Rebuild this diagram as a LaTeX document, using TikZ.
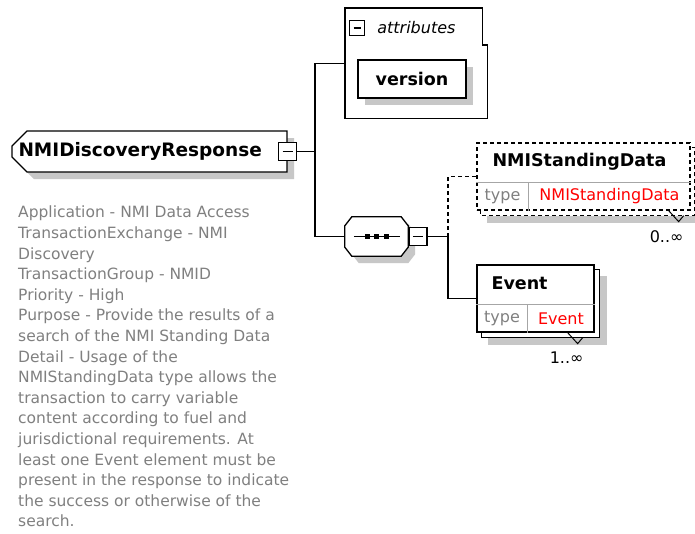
\documentclass[tikz,border=0pt]{standalone}
\usepackage{fontspec}
\setmainfont{DejaVu Sans}
\usetikzlibrary{positioning}
\usetikzlibrary{calc}
\usetikzlibrary{shapes.misc}
\usetikzlibrary{shadows}
\colorlet{shadow colour}{black!22}
\colorlet{note colour}{black!50}
\colorlet{type colour}{red}
\colorlet{split colour}{black!35}
\tikzset{
    % Outlines of the schema boxes
    outline/.style={draw=black, line width=1.3pt},
    connector/.style={draw=black, line width=1.3pt},
    dashed line/.style={dash pattern=on 4pt off 3pt},
%
    % Grey offset shadow under a box
    box shadow/.style={drop shadow={shadow xshift=7pt, shadow yshift=-7pt,
        fill=shadow colour, opacity=1}},
%
    % Fonts used in the boxes
    bold font/.style={font=\fontsize{17.5}{20}\selectfont\bfseries},
    small font/.style={font=\fontsize{16}{20.6}\selectfont},
}
\pgfdeclarelayer{background}
\pgfsetlayers{background,main}

\begin{document}
\begin{tikzpicture}[
    x=1pt, y=-1pt,
    plain box/.style={outline, fill=white, bold font, inner sep=0},
    element/.style={outline, fill=white, inner sep=0},
    root shape/.style={plain box, chamfered rectangle,
        chamfered rectangle corners={north west, south west},
        chamfered rectangle xsep=6pt, chamfered rectangle ysep=9pt},
    minus/.style={outline, fill=white, minimum size=18, inner sep=0,
        path picture={\draw [line width=1.5pt]
            ([xshift=4]path picture bounding box.west) --
            ([xshift=-4]path picture bounding box.east);}},
    dot/.style={fill=black, minimum size=5, inner sep=0},
    name text/.style={bold font, inner sep=0},
    type cell/.style={small font, text=note colour, inner sep=0, minimum height=28},
    value cell/.style={small font, text=type colour, inner sep=0, minimum height=28},
    split/.style={draw=split colour, line width=1pt},
    occurs/.style={small font, inner sep=0},
    note/.style={font=\fontsize{15.5}{20.6}\selectfont, text=note colour,
        align=left, inner sep=0},
]

\begin{pgfonlayer}{background}
    \fill [white] (0,0) rectangle (695,533);
\end{pgfonlayer}
\useasboundingbox (0,0) rectangle (695,533);

% root element
\node [root shape, box shadow, minimum width=275, minimum height=41,
    text width=262, align=left, font=\fontsize{18.5}{20}\selectfont\bfseries]
    (resp) at (149.5,151.5) {NMIDiscoveryResponse};
\node [minus] (resp minus) at (resp.east) {};

% attribute group
\node [minimum width=142, minimum height=110, anchor=north west, inner sep=0]
    (attrs) at (345,8) {};
\draw [outline, fill=white] (attrs.north west) -- ([xshift=-5]attrs.north east)
    -- ++(0,37) -- ++(5,0) -- (attrs.south east) -- (attrs.south west) -- cycle;
\node [minus, minimum size=15] (attrs minus) at (357,28) {};
\node [font=\fontsize{16}{20}\selectfont\itshape, anchor=west, inner sep=0]
    (attrs label) at ([xshift=12]attrs minus.east) {attributes};
\node [plain box, box shadow, minimum width=108, minimum height=38]
    (version) at (412,79) {version};

% sequence (octagon with its shadow)
\node [minimum width=63, minimum height=39, inner sep=0] (seq) at (376.5,236.5) {};
\foreach \d/\fillc/\drawc in {7/shadow colour/none, 0/white/black}
    \draw [line width=1.3pt, fill=\fillc, draw=\drawc]
        ($(seq.north west)+(7+\d,\d)$) -- ($(seq.north east)+(-7+\d,\d)$)
        -- ($(seq.north east)+(\d,9+\d)$) -- ($(seq.south east)+(\d,-9+\d)$)
        -- ($(seq.south east)+(-7+\d,\d)$) -- ($(seq.south west)+(7+\d,\d)$)
        -- ($(seq.south west)+(\d,-9+\d)$) -- ($(seq.north west)+(\d,9+\d)$)
        -- cycle;
\draw [line width=1.3pt] ([xshift=9]seq.west) -- ([xshift=-8]seq.east);
\foreach \dx in {-9.5,0,9.5}
    \node [dot] at ([xshift=\dx]seq.center) {};
\node [minus, anchor=west] (seq minus) at (seq.east) {};

% NMIStandingData element
\node [element, dashed line, minimum width=213, minimum height=67]
    (nmi) at (583.5,176.5) {};
\node [name text, anchor=west] (nmi name) at ($(nmi.north west)+(16,19.5)$) {NMIStandingData};
\node [type cell, minimum width=52, anchor=south west] (nmi type) at (nmi.south west) {type};
\node [value cell, minimum width=161, anchor=west] (nmi value) at (nmi type.east) {NMIStandingData};
\draw [split] (nmi type.north west) -- (nmi type.north west -| nmi.east);
\draw [split] (nmi type.north east) -- (nmi type.south east);
\draw [line width=1pt] ([xshift=-22]nmi.south east) -- ++(10,11) -- ++(5,-6);
\node [occurs, anchor=east] (nmi occurs) at ($(nmi.south east)+(-7,26)$) {0..∞};

% Event element
\node [element, minimum width=117, minimum height=67] (event) at (535.5,298.5) {};
\node [name text, anchor=west] (event name) at ($(event.north west)+(15,19)$) {Event};
\node [type cell, minimum width=51, anchor=south west] (event type) at (event.south west) {type};
\node [value cell, minimum width=66, anchor=west] (event value) at (event type.east) {Event};
\draw [split] (event type.north west) -- (event type.north west -| event.east);
\draw [split] (event type.north east) -- (event type.south east);
\draw [line width=1pt] ([xshift=-27]event.south east) -- ++(10,11) -- ++(5,-6);
\node [occurs, anchor=east] (event occurs) at ($(event.south east)+(-11,25)$) {1..∞};

% stacked copies behind the repeating elements
\begin{pgfonlayer}{background}
    \fill [shadow colour] ($(nmi.north west)+(11,12)$) rectangle ($(nmi.south east)+(11,12)$);
    \draw [outline, dashed line, fill=white] ($(nmi.north west)+(4,5)$)
        rectangle ($(nmi.south east)+(4,5)$);
    \fill [shadow colour] ($(event.north west)+(12,12)$) rectangle ($(event.south east)+(12,12)$);
    \draw [outline, fill=white] ($(event.north west)+(5,5)$)
        rectangle ($(event.south east)+(5,5)$);
\end{pgfonlayer}

% connectors
\coordinate (spine) at (315,151.5);
\coordinate (branch) at (448,236.5);
\draw [connector] (resp minus) -- (spine);
\draw [connector] (attrs.west) -| (spine) |- (seq.west);
\draw [connector] (seq minus) -- (branch);
\draw [connector, dashed line] (branch) |- (nmi.west);
\draw [connector] (branch) |- (event.west);

% documentation
\node [note, anchor=north west] (purpose) at (18,206) {Application - NMI Data Access\\
    TransactionExchange - NMI\\
    Discovery\\
    TransactionGroup - NMID\\
    Priority - High\\
    Purpose - Provide the results of a\\
    search of the NMI Standing Data\\
    Detail - Usage of the\\
    NMIStandingData type allows the\\
    transaction to carry variable\\
    content according to fuel and\\
    jurisdictional requirements. At\\
    least one Event element must be\\
    present in the response to indicate\\
    the success or otherwise of the\\
    search.};

\end{tikzpicture}
\end{document}
